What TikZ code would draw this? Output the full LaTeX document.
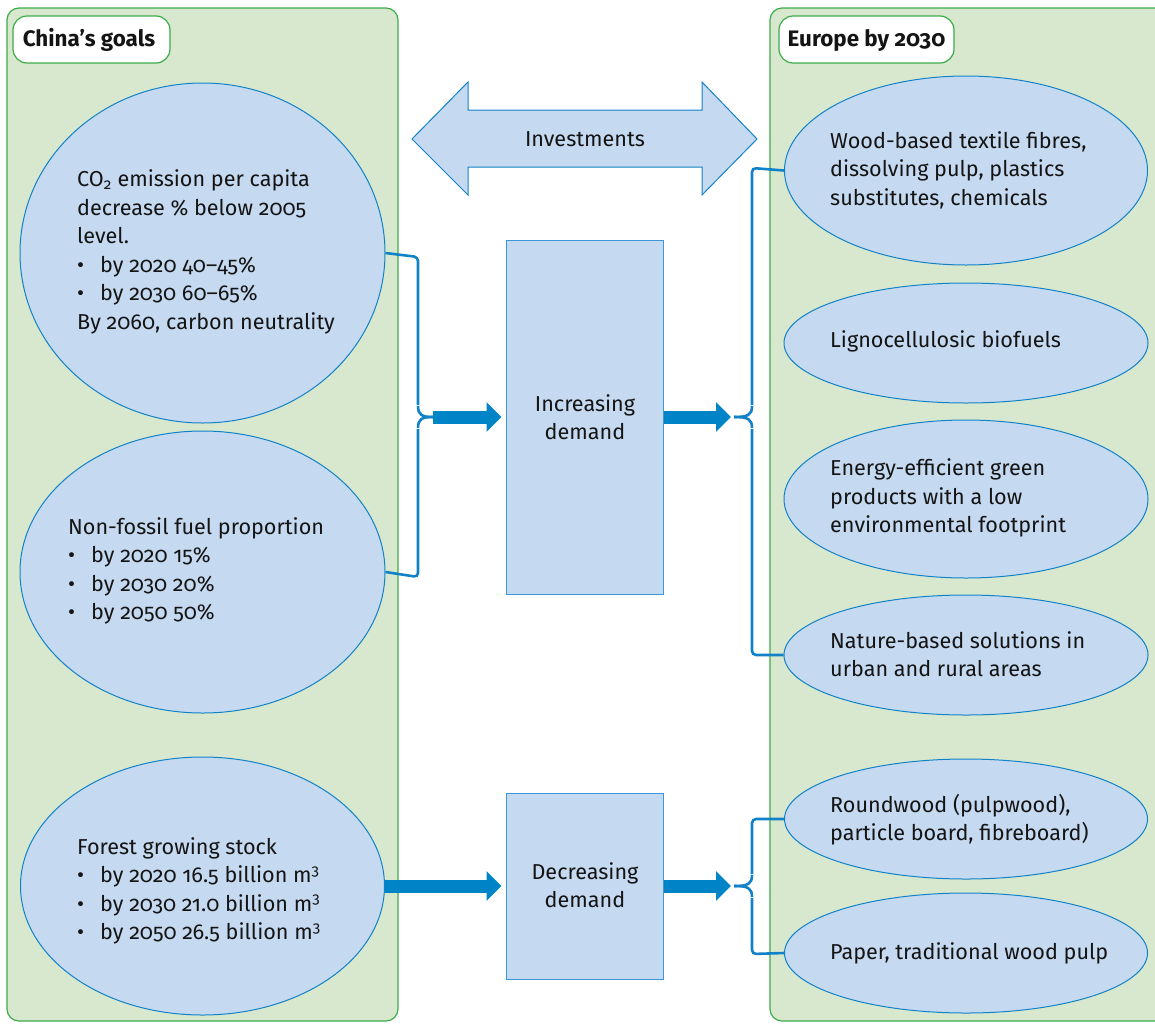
\documentclass[tikz,border=0pt]{standalone}
\usepackage{fontspec}
\setmainfont{Fira Sans}[Numbers=OldStyle]
\usetikzlibrary{arrows.meta,shapes.geometric}
\definecolor{panelfill}{RGB}{215,232,206}
\definecolor{paneldraw}{RGB}{60,172,72}
\definecolor{ellfill}{RGB}{197,217,240}
\definecolor{elldraw}{RGB}{18,130,200}
\definecolor{boxdraw}{RGB}{60,150,220}
\definecolor{arrfill}{RGB}{0,132,200}
\definecolor{txt}{RGB}{20,20,20}
\begin{document}
\begin{tikzpicture}[x=1pt,y=-1pt,
  panel/.style={draw=paneldraw,fill=panelfill,line width=1.2pt,rounded corners=12pt},
  titlebox/.style={draw=paneldraw,fill=white,line width=1.2pt,rounded corners=14pt},
  ell/.style={draw=elldraw,fill=ellfill,line width=1pt,ellipse,inner sep=0pt},
  demandbox/.style={draw=boxdraw,fill=ellfill,line width=1pt,inner sep=0pt},
  txtnode/.style={inner sep=0pt,align=left,text=txt,font=\fontsize{21.6}{28.5}\selectfont},
  titletxt/.style={inner sep=0pt,text=txt,font=\fontsize{22.4}{26}\selectfont\bfseries},
  brace/.style={draw=elldraw,line width=2.6pt,rounded corners=4pt},
  fat/.style={draw=arrfill,line width=13pt,-{Triangle[length=15pt,width=29pt]}},
]
\useasboundingbox (0,0) rectangle (1155,1023);
% panels
\draw[panel] (7,8) rectangle (398,1021);
\draw[panel] (770,8) rectangle (1185,1021);
\draw[titlebox] (13,16) rectangle (170,63);
\node[titletxt] (tchina) at (89,40) {China’s goals};
\draw[titlebox] (779,16) rectangle (954,63);
\node[titletxt] (teurope) at (866.5,40) {Europe by 2030};
% left ellipses
\node[ell,minimum width=365pt,minimum height=340pt] (e1) at (202.5,253) {};
\node[ell,minimum width=365pt,minimum height=282pt] (e2) at (202.5,572) {};
\node[ell,minimum width=364pt,minimum height=258pt] (e3) at (202.5,886) {};
\newcommand{\bul}{\makebox[23pt][l]{•}}
\node[txtnode,anchor=west] (t1) at (77,252) {CO\textsubscript{2} emission per capita\\decrease \% below 2005\\level.\\\bul by 2020 40–45\%\\\bul by 2030 60–65\%\\By 2060, carbon neutrality};
\node[txtnode,anchor=west] (t2) at (68,571) {Non-fossil fuel proportion\\\bul by 2020 15\%\\\bul by 2030 20\%\\\bul by 2050 50\%};
\node[txtnode,anchor=west] (t3) at (77,891) {Forest growing stock\\\bul by 2020 16.5 billion m\textsuperscript{3}\\\bul by 2030 21.0 billion m\textsuperscript{3}\\\bul by 2050 26.5 billion m\textsuperscript{3}};
% right ellipses
\node[ell,minimum width=363pt,minimum height=189pt] (r1) at (966,170.5) {};
\node[ell,minimum width=364pt,minimum height=120pt] (r2) at (966,343) {};
\node[ell,minimum width=364pt,minimum height=158pt] (r3) at (966,499) {};
\node[ell,minimum width=364pt,minimum height=120pt] (r4) at (966,655) {};
\node[ell,minimum width=363pt,minimum height=120pt] (r5) at (966,819) {};
\node[ell,minimum width=363pt,minimum height=120pt] (r6) at (966,953) {};
\node[txtnode,anchor=west] (s1) at (830,170) {Wood-based textile fibres,\\dissolving pulp, plastics\\substitutes, chemicals};
\node[txtnode,anchor=west] (s2) at (830,341) {Lignocellulosic biofuels};
\node[txtnode,anchor=west] (s3) at (830,498) {Energy-efficient green\\products with a low\\environmental footprint};
\node[txtnode,anchor=west] (s4) at (830,654) {Nature-based solutions in\\urban and rural areas};
\node[txtnode,anchor=west] (s5) at (830,819.5) {Roundwood (pulpwood),\\particle board, fibreboard)};
\node[txtnode,anchor=west] (s6) at (830,953) {Paper, traditional wood pulp};
% investments double arrow
\draw[draw=elldraw,fill=ellfill,line width=1pt] (412,139) -- (468,82) -- (468,110) -- (702,110) -- (702,82) -- (757,139) -- (702,195) -- (702,167) -- (468,167) -- (468,195) -- cycle;
\node[txtnode] (inv) at (585,139) {Investments};
% demand boxes
\node[demandbox,minimum width=157pt,minimum height=354pt] (inc) at (584.5,417) {};
\node[txtnode,align=center] (tinc) at (585,417) {Increasing\\demand};
\node[demandbox,minimum width=157pt,minimum height=186pt] (dec) at (584.5,886) {};
\node[txtnode,align=center] (tdec) at (585,885) {Decreasing\\demand};
% braces
\coordinate (bl) at (433,417);
\draw[brace] (e1.east) -- (418,257) -- (418,405);
\draw[brace] (e2.east) -- (418,577) -- (418,429);
\draw[draw=elldraw,line width=2.6pt] (418,406) .. controls (418,415) and (422,417) .. (bl);
\draw[draw=elldraw,line width=2.6pt] (418,428) .. controls (418,419) and (422,417) .. (bl);
\coordinate (br) at (734,417);
\draw[brace] (r1.west) -- (752,168) -- (752,405);
\draw[brace] (r4.west) -- (752,655) -- (752,429);
\draw[draw=elldraw,line width=2.6pt] (752,406) .. controls (752,415) and (748,417) .. (br);
\draw[draw=elldraw,line width=2.6pt] (752,428) .. controls (752,419) and (748,417) .. (br);
\coordinate (br2) at (734,886);
\draw[brace] (r5.west) -- (752,819) -- (752,874);
\draw[brace] (r6.west) -- (752,954) -- (752,898);
\draw[draw=elldraw,line width=2.6pt] (752,875) .. controls (752,884) and (748,886) .. (br2);
\draw[draw=elldraw,line width=2.6pt] (752,897) .. controls (752,888) and (748,886) .. (br2);
% fat arrows
\draw[fat,shorten >=4pt] (bl) -- (inc.west |- bl);
\draw[fat,shorten >=3pt] (inc.east |- br) -- (br);
\draw[fat,shorten >=4pt] (e3.east) -- (dec.west |- e3.east);
\draw[fat,shorten >=3pt] (dec.east |- br2) -- (br2);
\end{tikzpicture}
\end{document}
